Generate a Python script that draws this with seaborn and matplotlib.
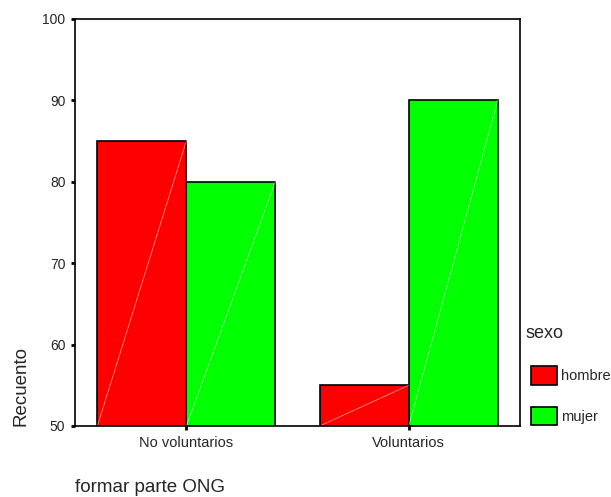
import matplotlib
matplotlib.use("Agg")
import matplotlib.pyplot as plt
import seaborn as sns
import pandas as pd

categories = ["No voluntarios", "Voluntarios"]
groups = ["hombre", "mujer"]
hombre = [85, 55]
mujer = [80, 90]
colors = ["#ff0000", "#00ff00"]

df = pd.DataFrame({
    "cat": categories * 2,
    "sexo": ["hombre"] * 2 + ["mujer"] * 2,
    "val": hombre + mujer,
})

sns.set_style("white")
plt.rcParams["font.family"] = ["Liberation Sans", "DejaVu Sans"]

fig = plt.figure(figsize=(6.11, 4.97), dpi=100)
ax = fig.add_axes([0.123, 0.143, 0.728, 0.819])

sns.barplot(data=df, x="cat", y="val", hue="sexo", order=categories,
            hue_order=groups, palette=colors, width=0.8, ax=ax,
            edgecolor="black", linewidth=1.2, saturation=1)

# faint diagonal highlight inside each bar (derived from the bar geometry)
for p in list(ax.patches):
    x0, y0 = p.get_x(), p.get_y()
    w, h = p.get_width(), p.get_height()
    if h > 0:
        y_lo = max(y0, 50)
        ax.plot([x0, x0 + w], [y_lo, y0 + h], color="white", lw=0.6,
                alpha=0.55, zorder=p.get_zorder() + 0.1)

ax.set_ylim(50, 100)
ax.set_xlim(-0.5, 1.5)
ax.set_yticks([50, 60, 70, 80, 90, 100])
ax.tick_params(axis="both", left=True, bottom=True, direction="out",
               length=3, width=2, labelsize=10, color="black", pad=4)
ax.tick_params(axis="x", labelsize=10.5)
for s in ax.spines.values():
    s.set_color("black")
    s.set_linewidth(1.2)

ax.set_ylabel("Recuento", loc="bottom", fontsize=13.5, labelpad=9)
ax.set_xlabel("formar parte ONG", loc="left", fontsize=13.5, labelpad=21)

fig.text(526 / 611, 1 - 333 / 497, "sexo", fontsize=13, ha="left",
         va="center")
leg = ax.legend(loc="upper left",
                bbox_to_anchor=(531 / 611, 1 - 366 / 497),
                bbox_transform=fig.transFigure,
                frameon=False, fontsize=10.5,
                handlelength=1.78, handleheight=1.6, labelspacing=1.5,
                handletextpad=0.25, borderaxespad=0, borderpad=0)
for h in leg.legend_handles:
    h.set_edgecolor("black")
    h.set_linewidth(1.2)

fig.savefig("out.png", dpi=100)
